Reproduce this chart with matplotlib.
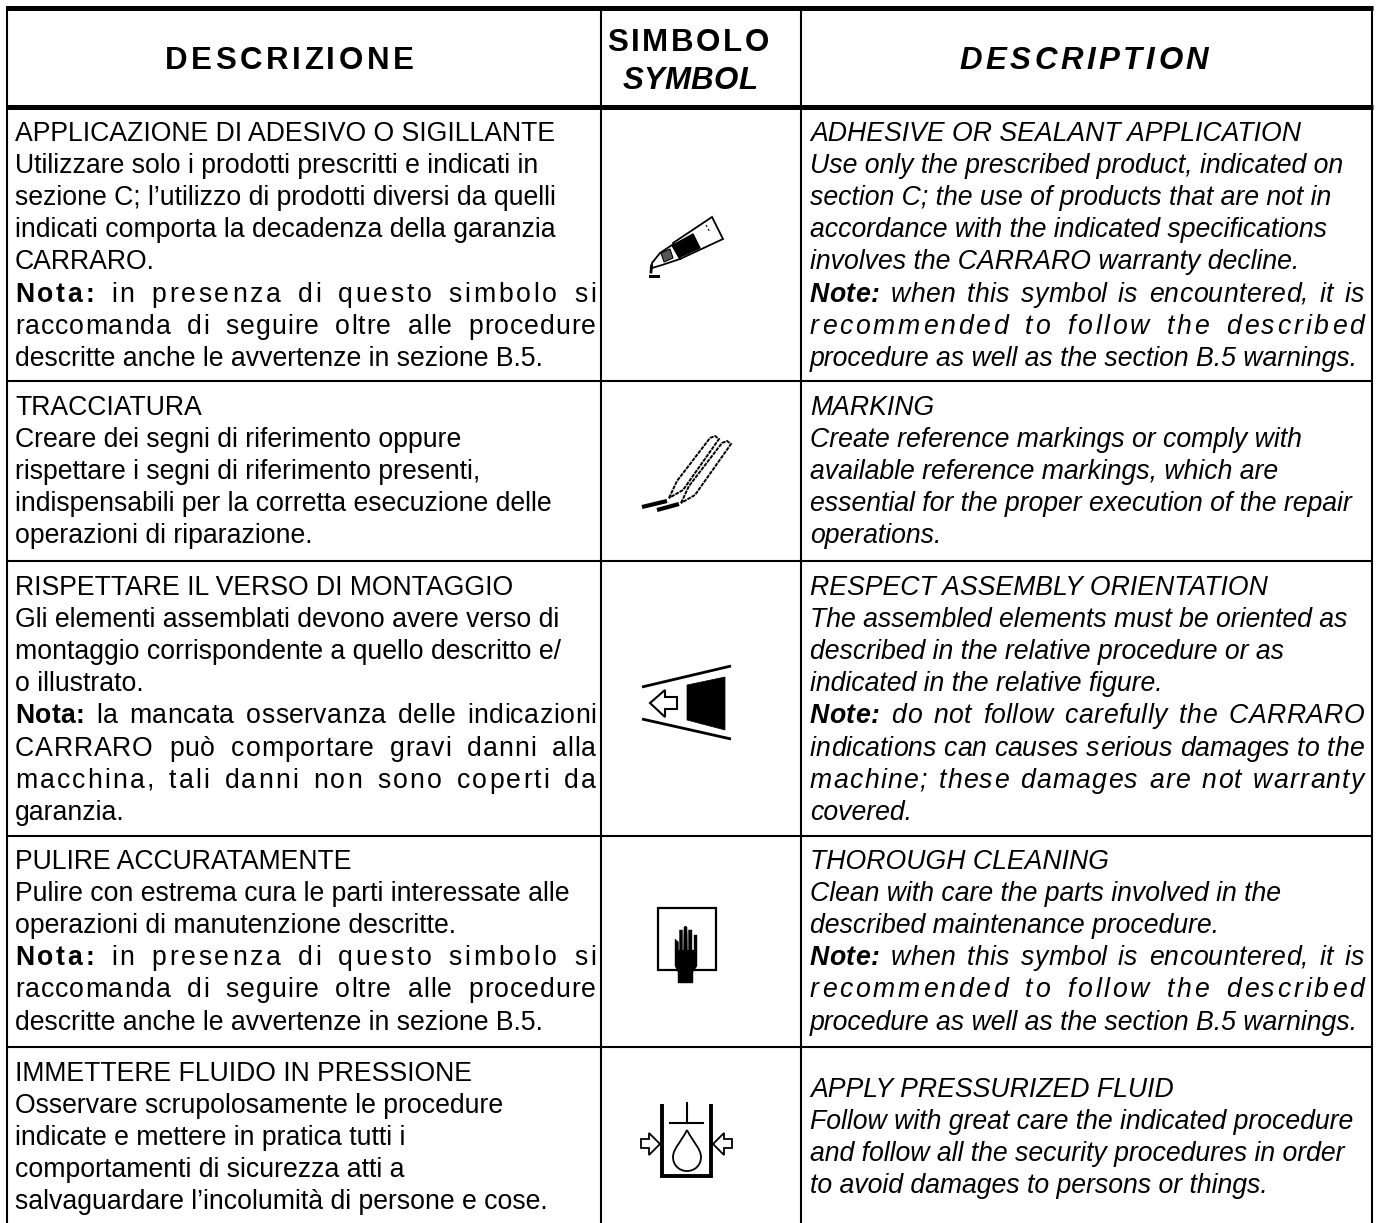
import matplotlib
matplotlib.use("Agg")
import matplotlib.pyplot as plt
from matplotlib.patches import Polygon, Rectangle, PathPatch
from matplotlib.path import Path

plt.rcParams["font.family"] = "Liberation Sans"

W, H = 1378, 1223
FS = 19.15
LEAD = 32.1

col_x = [7, 601, 801, 1372]
row_lines = [381, 561, 836, 1047]

head_it = "DESCRIZIONE"
head_sym_1 = "SIMBOLO"
head_sym_2 = "SYMBOL"
head_en = "DESCRIPTION"

it_1 = ["APPLICAZIONE DI ADESIVO O SIGILLANTE", "Utilizzare solo i prodotti prescritti e indicati in",
        "sezione C; l\u2019utilizzo di prodotti diversi da quelli", "indicati comporta la decadenza della garanzia",
        "CARRARO.", "Nota: in presenza di questo simbolo si",
        "raccomanda di seguire oltre alle procedure", "descritte anche le avvertenze in sezione B.5."]
it_2 = ["TRACCIATURA", "Creare dei segni di riferimento oppure",
        "rispettare i segni di riferimento presenti,", "indispensabili per la corretta esecuzione delle",
        "operazioni di riparazione."]
it_3 = ["RISPETTARE IL VERSO DI MONTAGGIO", "Gli elementi assemblati devono avere verso di",
        "montaggio corrispondente a quello descritto e/", "o illustrato.",
        "Nota: la mancata osservanza delle indicazioni", "CARRARO pu\u00f2 comportare gravi danni alla",
        "macchina, tali danni non sono coperti da", "garanzia."]
it_4 = ["PULIRE ACCURATAMENTE", "Pulire con estrema cura le parti interessate alle",
        "operazioni di manutenzione descritte.", "Nota: in presenza di questo simbolo si",
        "raccomanda di seguire oltre alle procedure", "descritte anche le avvertenze in sezione B.5."]
it_5 = ["IMMETTERE FLUIDO IN PRESSIONE", "Osservare scrupolosamente le procedure",
        "indicate e mettere in pratica tutti i", "comportamenti di sicurezza atti a",
        "salvaguardare l\u2019incolumit\u00e0 di persone e cose."]

en_1 = ["ADHESIVE OR SEALANT APPLICATION", "Use only the prescribed product, indicated on",
        "section C; the use of products that are not in", "accordance with the indicated specifications",
        "involves the CARRARO warranty decline.", "Note: when this symbol is encountered, it is",
        "recommended to follow the described", "procedure as well as the section B.5 warnings."]
en_2 = ["MARKING", "Create reference markings or comply with",
        "available reference markings, which are", "essential for the proper execution of the repair",
        "operations."]
en_3 = ["RESPECT ASSEMBLY ORIENTATION", "The assembled elements must be oriented as",
        "described in the relative procedure or as", "indicated in the relative figure.",
        "Note: do not follow carefully the CARRARO", "indications can causes serious damages to the",
        "machine; these damages are not warranty", "covered."]
en_4 = ["THOROUGH CLEANING", "Clean with care the parts involved in the",
        "described maintenance procedure.", "Note: when this symbol is encountered, it is",
        "recommended to follow the described", "procedure as well as the section B.5 warnings."]
en_5 = ["APPLY PRESSURIZED FLUID", "Follow with great care the indicated procedure",
        "and follow all the security procedures in order", "to avoid damages to persons or things."]

it_rows = [it_1, it_2, it_3, it_4, it_5]
en_rows = [en_1, en_2, en_3, en_4, en_5]
it_base = [141, 415, 595, 869, 1081]
en_base = [141, 415, 595, 869, 1097]

# justified lines, the gap goes mostly between words or between all letters
word_just = {"raccomanda di seguire oltre alle procedure", "Nota: la mancata osservanza delle indicazioni",
             "Note: when this symbol is encountered, it is", "Note: do not follow carefully the CARRARO",
             "indications can causes serious damages to the", "CARRARO pu\u00f2 comportare gravi danni alla"}
letter_just = {"Nota: in presenza di questo simbolo si", "recommended to follow the described",
               "macchina, tali danni non sono coperti da", "machine; these damages are not warranty"}

fig = plt.figure(figsize=(W / 100, H / 100), dpi=100)
ax = fig.add_axes([0, 0, 1, 1])
ax.set_xlim(0, W)
ax.set_ylim(H, 0)
ax.axis("off")
rend = fig.canvas.get_renderer()


def width(s, weight, style, fs=FS):
    t = ax.text(0, 0, s + "H", fontsize=fs, weight=weight, style=style)
    w = t.get_window_extent(rend).width
    t.set_text("H")
    w -= t.get_window_extent(rend).width
    t.remove()
    return w


def draw_line(x0, x1, y, text, style):
    if text[:5] in ("Nota:", "Note:"):
        segs = [(text[:5], "bold"), (text[5:], "normal")]
    else:
        segs = [(text, "normal")]
    if text not in word_just and text not in letter_just:
        x = x0
        for s, wt in segs:
            ax.text(x, y, s, fontsize=FS, weight=wt, style=style, va="baseline", ha="left")
            x += width(s, wt, style)
        return
    sp_w = 9 if text in word_just else 2.5
    total = sum(width(s, wt, style) for s, wt in segs)
    shares = sum(sp_w if c == " " else 1 for c in text[:-1])
    unit = (x1 - x0 - total) / shares
    x = x0
    shift = 0
    for s, wt in segs:
        for k, ch in enumerate(s):
            ax.text(x + width(s[:k], wt, style) + shift, y, ch, fontsize=FS, weight=wt, style=style,
                    va="baseline", ha="left")
            shift += unit * (sp_w if ch == " " else 1)
        x += width(s, wt, style)


def spaced(cx, y, text, fs, sp, style="normal"):
    w = width(text, "bold", style, fs) + sp * (len(text) - 1)
    x = cx - w / 2
    for k, ch in enumerate(text):
        ax.text(x + width(text[:k], "bold", style, fs) + sp * k, y, ch, fontsize=fs, weight="bold", style=style,
                va="baseline", ha="left")


# table rules
ax.plot([6, 1373], [7.5, 7.5], color="black", lw=3.6, solid_capstyle="butt")
ax.plot([6, 1373], [106.5, 106.5], color="black", lw=3.6, solid_capstyle="butt")
for y in row_lines:
    ax.plot([6, 1373], [y, y], color="black", lw=1.5, solid_capstyle="butt")
for x in col_x:
    ax.plot([x, x], [6, H], color="black", lw=1.5, solid_capstyle="butt")

# header text
spaced(289, 69, head_it, 22.5, 3.5)
spaced(688, 51, head_sym_1, 22.5, 2.6)
spaced(690, 89, head_sym_2, 22.5, 0.1, "italic")
spaced(1084, 69, head_en, 22.5, 3.5, "italic")

# body
for rows, first, x0, x1, style in [(it_rows, it_base, 15, 596, "normal"), (en_rows, en_base, 810, 1364, "italic")]:
    for lines, y0 in zip(rows, first):
        for i, line in enumerate(lines):
            draw_line(x0, x1, y0 + i * LEAD, line, style)

# symbol 1, tube
ax.add_patch(Polygon([[673, 243], [712, 217], [723, 239], [680, 259]], fc="white", ec="black", lw=1.3))
ax.add_patch(Polygon([[673, 245], [693, 234], [700, 248], [678, 258]], fc="black", ec="black"))
ax.add_patch(Polygon([[672, 245], [660, 253], [652, 263], [652, 268], [662, 265], [680, 259]], fc="white", ec="black", lw=1.3))
ax.add_patch(Polygon([[661, 253], [670, 249], [673, 258], [664, 262]], fc="#555555", ec="black", lw=0.8))
ax.plot([706, 710], [225, 232], color="black", lw=0.8, ls=(0, (2, 2)))
ax.plot([651.5, 651], [266, 272], color="black", lw=2)
ax.add_patch(Rectangle((649, 275), 11, 3, fc="black"))

# symbol 2, scribers
for dx, dy in [(0, 0), (12, 5)]:
    ax.add_patch(Polygon([[669 + dx, 498 + dy], [677 + dx, 481 + dy], [710 + dx, 438 + dy], [715 + dx, 436 + dy],
                          [719 + dx, 439 + dy], [683 + dx, 490 + dy]],
                         fc="white", ec="black", lw=1.4, ls=(0, (2, 0.5))))
ax.plot([642, 667], [507, 501], color="black", lw=3, solid_capstyle="butt")
ax.plot([657, 679], [510, 504], color="black", lw=3, solid_capstyle="butt")

# symbol 3, orientation
ax.plot([642, 731], [687, 666], color="black", lw=2, solid_capstyle="butt")
ax.plot([642, 731], [719, 739], color="black", lw=2, solid_capstyle="butt")
ax.add_patch(Polygon([[687, 685], [725, 677], [725, 730], [687, 720]], fc="black", ec="black", lw=0.5))
ax.add_patch(Polygon([[650, 703], [665, 690], [665, 697], [677, 697], [677, 709], [665, 709], [665, 717]],
                     fc="white", ec="black", lw=1.5))

# symbol 4, hand
ax.add_patch(Rectangle((657.5, 908), 58, 62, fc="none", ec="black", lw=1.6))
hand = [[678, 983], [678, 972], [675, 966], [675, 939], [678.5, 942], [678.5, 950], [679.5, 950], [679.5, 930],
        [682.5, 930], [682.5, 950], [683.5, 950], [684, 927], [685.5, 926], [687, 927], [687.5, 950], [688.5, 950],
        [688.5, 930], [692, 930], [692, 950], [694, 950], [694, 935], [697, 935], [697, 966], [693, 972], [693, 983]]
ax.add_patch(Polygon(hand, fc="black", ec="black", lw=0.3))

# symbol 5, pressure vessel
ax.plot([662, 662, 711, 711], [1104, 1176, 1176, 1104], color="black", lw=2.8, solid_joinstyle="miter",
        solid_capstyle="butt")
ax.plot([670, 703], [1123, 1123], color="black", lw=1.5)
ax.plot([687, 687], [1103, 1123], color="black", lw=1.5)
drop = Path([(687, 1130), (693, 1142), (701, 1149), (701, 1157), (701, 1165), (695, 1171), (687, 1171),
             (679, 1171), (673, 1165), (673, 1157), (673, 1149), (681, 1142), (687, 1130)],
            [Path.MOVETO] + [Path.CURVE4] * 12)
ax.add_patch(PathPatch(drop, fc="white", ec="black", lw=1.3))
ax.add_patch(Polygon([[660, 1144], [649, 1133], [649, 1139], [641, 1139], [641, 1148], [649, 1148], [649, 1155]],
                     fc="white", ec="black", lw=1.3))
ax.add_patch(Polygon([[713, 1144], [724, 1133], [724, 1139], [732, 1139], [732, 1148], [724, 1148], [724, 1155]],
                     fc="white", ec="black", lw=1.3))

fig.savefig("out.png", dpi=100)
